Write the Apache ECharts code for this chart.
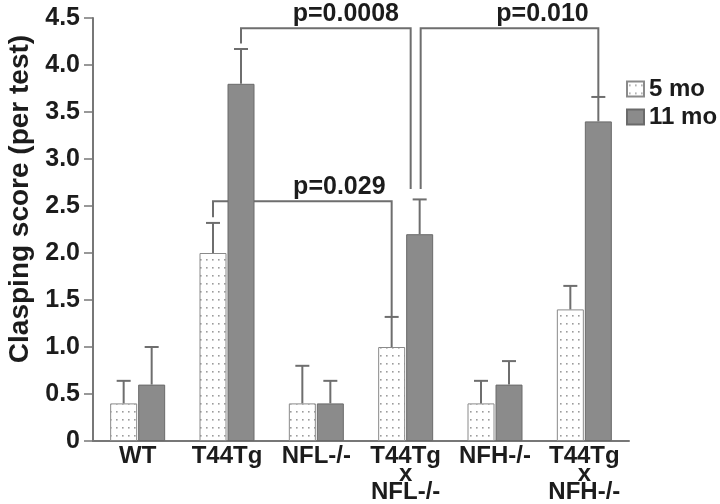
<!DOCTYPE html>
<html><head><meta charset="utf-8">
<script src="https://cdn.jsdelivr.net/npm/echarts@6/dist/echarts.min.js"></script>
<style>html,body{margin:0;padding:0;background:#fff}#c{width:720px;height:504px}</style>
</head><body><div id="c"></div>
<script>
// ---------- data ----------
const categories = ['WT', 'T44Tg', 'NFL-/-', 'T44Tg\nx\nNFL-/-', 'NFH-/-', 'T44Tg\nx\nNFH-/-'];
const seriesNames = ['5 mo', '11 mo'];
const values5mo  = [0.4, 2.0, 0.4, 1.0, 0.4, 1.4];
const values11mo = [0.6, 3.8, 0.4, 2.2, 0.6, 3.4];
const err5mo  = [0.24, 0.32, 0.40, 0.32, 0.24, 0.25];
const err11mo = [0.40, 0.37, 0.24, 0.37, 0.25, 0.26];
const yTickLabels = ['0', '0.5', '1.0', '1.5', '2.0', '2.5', '3.0', '3.5', '4.0', '4.5'];
// significance brackets: points are [categoryIndex, seriesIndex, value]
const bracketLabels = ['p=0.0008', 'p=0.010', 'p=0.029'];
const bracketPoints = [
  [[1, 1, 4.23], [1, 1, 4.39], [3, 1, 4.39], [3, 1, 2.68]],
  [[3, 1, 2.68], [3, 1, 4.39], [5, 1, 4.39], [5, 1, 3.66]],
  [[1, 0, 2.38], [1, 0, 2.55], [3, 0, 2.55], [3, 0, 1.32]]
];

// ---------- layout / style ----------
const FONT = '"Liberation Sans", Arial, Helvetica, sans-serif';
const BAR_W = 27;
const BAR_GAP_PX = 1;
const OFF = (BAR_W + BAR_GAP_PX) / 2;
const CAP = 14;
const LINE_COL = '#6e6e6e';
const TEXT_COL = '#1c1c1c';
// pixel nudges for bracket end points (same shape as bracketPoints)
const bracketNudge = [[0, 0, -9, -9], [1, 1, 0, 0], [0, 0, 0, 0]];
const bracketLabelDx = [20, 33, 37];

function dotPattern() {
  const c = document.createElement('canvas');
  c.width = 6; c.height = 8;
  const g = c.getContext('2d');
  g.fillStyle = '#ffffff'; g.fillRect(0, 0, 6, 8);
  g.fillStyle = '#9c9c9c'; g.fillRect(2, 3, 1.6, 1.6);
  return c;
}
const color5 = { image: dotPattern(), repeat: 'repeat' };
const color11 = '#8b8b8b';

function errRender(sIdx) {
  return function (params, api) {
    const i = api.value(0);
    const x = api.coord([i, 0])[0] + (sIdx === 0 ? -OFF : OFF);
    const y1 = api.coord([i, api.value(1)])[1];
    const y2 = api.coord([i, api.value(2)])[1];
    return { type: 'group', children: [
      { type: 'line', shape: { x1: x, y1: y1, x2: x, y2: y2 }, style: { stroke: LINE_COL, lineWidth: 2 } },
      { type: 'line', shape: { x1: x - CAP / 2, y1: y2, x2: x + CAP / 2, y2: y2 }, style: { stroke: LINE_COL, lineWidth: 2 } }
    ]};
  };
}

function bracketRender(params, api) {
  const k = api.value(0);
  const pts = bracketPoints[k].map(function (p, j) {
    const c = api.coord([p[0], p[2]]);
    return [c[0] + (p[1] === 0 ? -OFF : OFF) + bracketNudge[k][j], c[1]];
  });
  const lineY = pts[1][1];
  const midX = (pts[1][0] + pts[2][0]) / 2 + bracketLabelDx[k];
  return { type: 'group', children: [
    { type: 'polyline', shape: { points: pts }, style: { stroke: LINE_COL, lineWidth: 2, fill: null } },
    { type: 'text', x: midX, y: lineY - 2, style: { text: bracketLabels[k], font: 'bold 25px ' + FONT, fill: TEXT_COL, align: 'center', verticalAlign: 'bottom' } }
  ]};
}

const chart = echarts.init(document.getElementById('c'), null, { renderer: 'canvas' });
chart.setOption({
  animation: false,
  backgroundColor: '#ffffff',
  grid: { left: 93, right: 91, top: 18, bottom: 63 },
  legend: {
    orient: 'vertical', left: 626, top: 77, padding: 0, itemWidth: 17, itemHeight: 15, itemGap: 4,
    icon: 'rect', data: seriesNames,
    textStyle: { fontFamily: FONT, fontWeight: 'bold', fontSize: 24, color: TEXT_COL }
  },
  graphic: [{
    type: 'text', x: 20, y: 199, rotation: Math.PI / 2,
    style: { text: 'Clasping score (per test)', font: 'bold 28px ' + FONT, fill: TEXT_COL, align: 'center', verticalAlign: 'middle' }
  }],
  xAxis: {
    type: 'category', data: categories,
    axisLine: { lineStyle: { color: '#777', width: 2 } },
    axisTick: { show: false },
    axisLabel: { interval: 0, margin: 6, fontFamily: FONT, fontWeight: 'bold', fontSize: 24, lineHeight: 18, color: TEXT_COL, verticalAlign: 'top' }
  },
  yAxis: {
    type: 'value', min: 0, max: 4.5, interval: 0.5,
    splitLine: { show: false },
    axisLine: { show: true, lineStyle: { color: '#777', width: 2 } },
    axisTick: { show: true, inside: false, length: 9, lineStyle: { color: '#777', width: 1.5 } },
    axisLabel: { margin: 13, fontFamily: FONT, fontWeight: 'bold', fontSize: 25, color: TEXT_COL,
      formatter: function (v) { return yTickLabels[Math.round(v / 0.5)]; } }
  },
  series: [
    { type: 'custom', name: 'brackets', z: 1, renderItem: bracketRender, data: bracketLabels.map(function (_, k) { return [k, 0]; }), silent: true },
    { type: 'bar', name: seriesNames[0], z: 2, data: values5mo, barWidth: BAR_W, barGap: (BAR_GAP_PX / BAR_W * 100) + '%',
      itemStyle: { color: color5, borderColor: '#8a8a8a', borderWidth: 1 } },
    { type: 'bar', name: seriesNames[1], z: 2, data: values11mo, barWidth: BAR_W,
      itemStyle: { color: color11, borderColor: '#6a6a6a', borderWidth: 1 } },
    { type: 'custom', name: 'err5', z: 3, renderItem: errRender(0), data: values5mo.map(function (v, i) { return [i, v, v + err5mo[i]]; }), silent: true },
    { type: 'custom', name: 'err11', z: 3, renderItem: errRender(1), data: values11mo.map(function (v, i) { return [i, v, v + err11mo[i]]; }), silent: true }
  ]
});
</script>
</body></html>
